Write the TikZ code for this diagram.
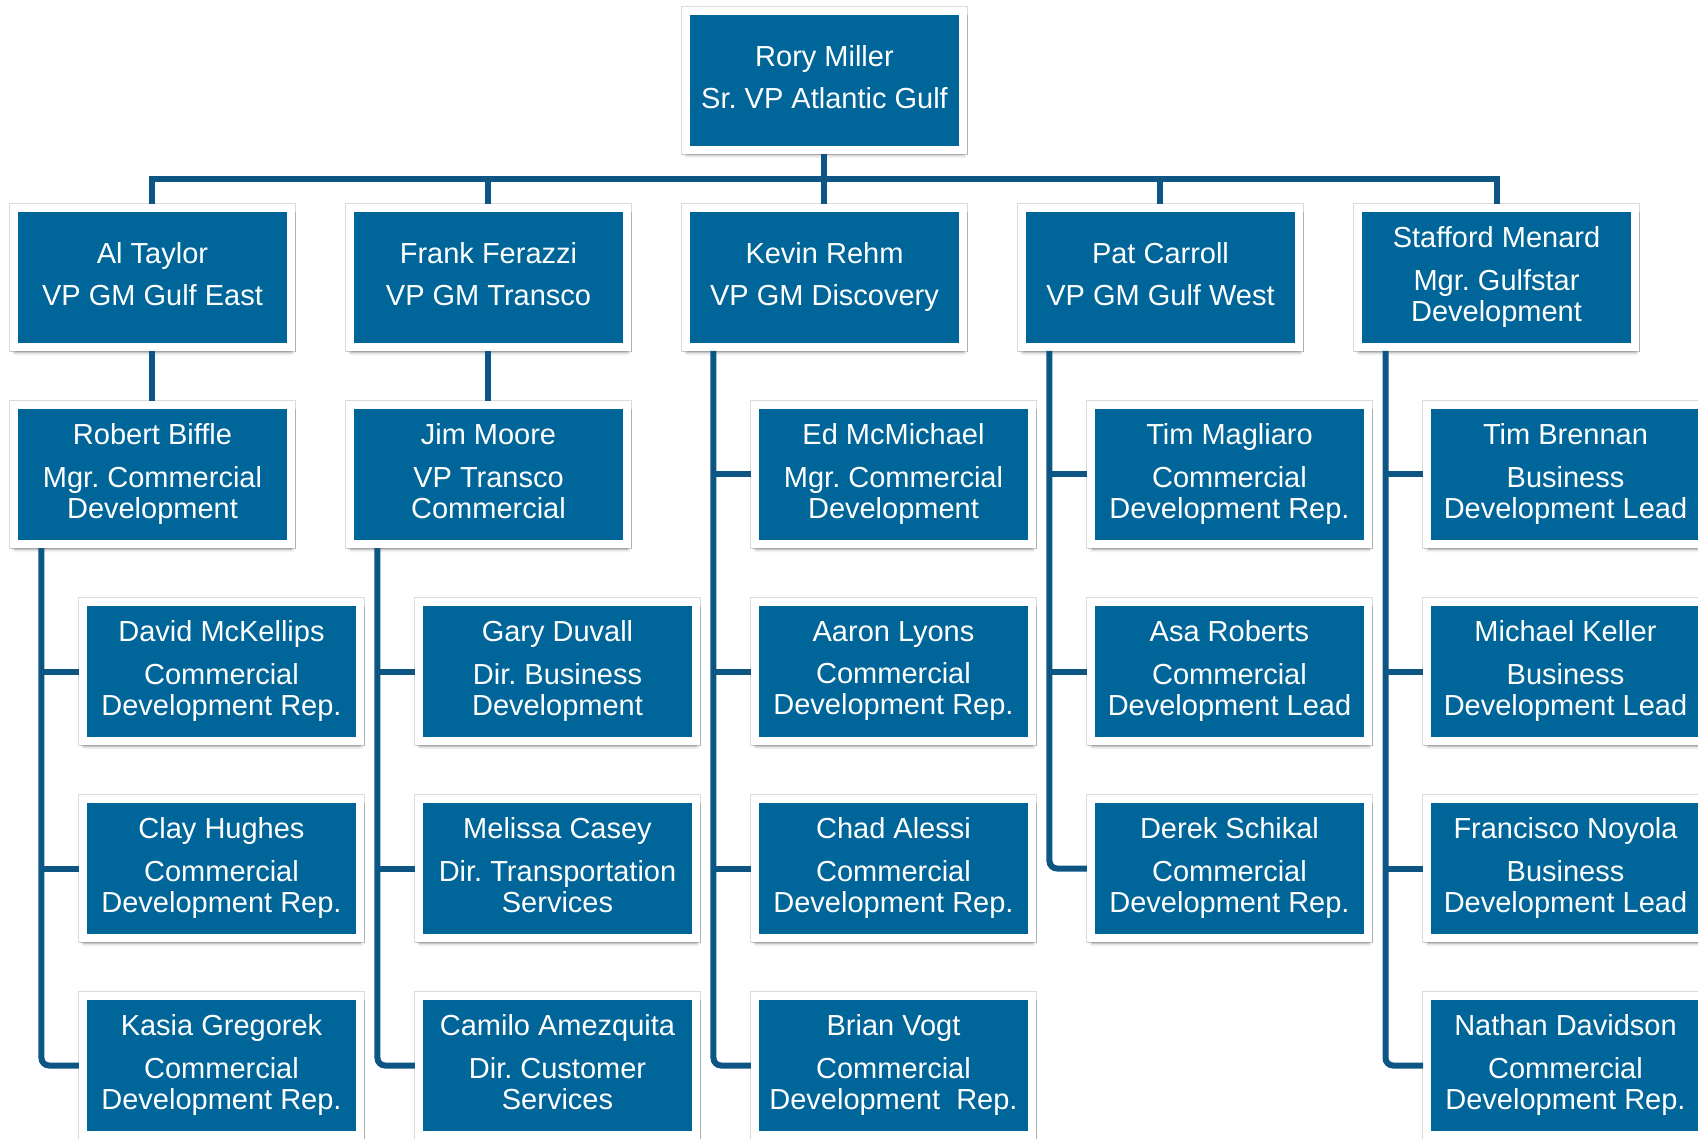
\documentclass[tikz,border=0pt]{standalone}
\usepackage{fontspec}
\setmainfont{Liberation Sans}
\frenchspacing
\usetikzlibrary{positioning, shadows.blur}
\definecolor{boxblue}{RGB}{0,101,153}
\definecolor{lineblue}{RGB}{13,86,132}
\tikzstyle{conn} = [lineblue, line width=0.12cm]

\begin{document}
\begin{tikzpicture}[
        person/.style={
            fill=boxblue,
            draw=white,
            line width=0.16cm,
            preaction={draw=black!14, line width=0.19cm},
            blur shadow={shadow xshift=0.02cm, shadow yshift=-0.1cm,
                shadow blur radius=0.07cm, shadow opacity=40},
            minimum width=5.54cm,
            minimum height=2.78cm,
            inner sep=2pt,
            align=center,
            text=white,
            font=\fontsize{16.5}{17.5}\selectfont,
            execute at begin node=\rule{0pt}{17.5pt},
            execute at end node=\rule[-4pt]{0pt}{4pt}
        },
        node distance=1cm
    ]
        \useasboundingbox (-16.49,1.61) rectangle (17.47,-21.17);

        % top and second level
        \node[person] (root) {Rory Miller\\[6.8pt]Sr. VP Atlantic Gulf};
        \node[person, below=of root] (rehm) {Kevin Rehm\\[6.8pt]VP GM Discovery};
        \node[person, left=1.02cm of rehm] (ferazzi) {Frank Ferazzi\\[6.8pt]VP GM Transco};
        \node[person, left=1.02cm of ferazzi] (taylor) {Al Taylor\\[6.8pt]VP GM Gulf East};
        \node[person, right=1.02cm of rehm] (carroll) {Pat Carroll\\[6.8pt]VP GM Gulf West};
        \node[person, right=1.02cm of carroll] (menard) {Stafford Menard\\[6.8pt]Mgr. Gulfstar\\Development};

        % Al Taylor
        \node[person, below=of taylor] (biffle) {Robert Biffle\\[6.8pt]Mgr. Commercial\\Development};
        \node[person, below=of biffle, xshift=1.38cm] (mckellips) {David McKellips\\[6.8pt]Commercial\\Development Rep.};
        \node[person, below=of mckellips] (hughes) {Clay Hughes\\[6.8pt]Commercial\\Development Rep.};
        \node[person, below=of hughes] (gregorek) {Kasia Gregorek\\[6.8pt]Commercial\\Development Rep.};

        % Frank Ferazzi
        \node[person, below=of ferazzi] (moore) {Jim Moore\\[6.8pt]VP Transco\\Commercial};
        \node[person, below=of moore, xshift=1.38cm] (duvall) {Gary Duvall\\[6.8pt]Dir. Business\\Development};
        \node[person, below=of duvall] (casey) {Melissa Casey\\[6.8pt]Dir. Transportation\\Services};
        \node[person, below=of casey] (amezquita) {Camilo Amezquita\\[6.8pt]Dir. Customer\\Services};

        % Kevin Rehm
        \node[person, below=of rehm, xshift=1.38cm] (mcmichael) {Ed McMichael\\[6.8pt]Mgr. Commercial\\Development};
        \node[person, below=of mcmichael] (lyons) {Aaron Lyons\\[6.8pt]Commercial\\Development Rep.};
        \node[person, below=of lyons] (alessi) {Chad Alessi\\[6.8pt]Commercial\\Development Rep.};
        \node[person, below=of alessi] (vogt) {Brian Vogt\\[6.8pt]Commercial\\Development~~Rep.};

        % Pat Carroll
        \node[person, below=of carroll, xshift=1.38cm] (magliaro) {Tim Magliaro\\[6.8pt]Commercial\\Development Rep.};
        \node[person, below=of magliaro] (roberts) {Asa Roberts\\[6.8pt]Commercial\\Development Lead};
        \node[person, below=of roberts] (schikal) {Derek Schikal\\[6.8pt]Commercial\\Development Rep.};

        % Stafford Menard
        \node[person, below=of menard, xshift=1.38cm] (brennan) {Tim Brennan\\[6.8pt]Business\\Development Lead};
        \node[person, below=of brennan] (keller) {Michael Keller\\[6.8pt]Business\\Development Lead};
        \node[person, below=of keller] (noyola) {Francisco Noyola\\[6.8pt]Business\\Development Lead};
        \node[person, below=of noyola] (davidson) {Nathan Davidson\\[6.8pt]Commercial\\Development Rep.};

        % connectors
        \draw[conn] (root) -- (rehm);
        \foreach \n in {taylor, ferazzi, carroll, menard}
            \draw[conn] (root.south) -- ++(0,-0.5) -| (\n.north);
        \draw[conn] (taylor) -- (biffle);
        \draw[conn] (ferazzi) -- (moore);

        \coordinate (bifflespine) at ([xshift=-2.22cm]biffle.south);
        \coordinate (moorespine) at ([xshift=-2.22cm]moore.south);
        \coordinate (rehmspine) at ([xshift=-2.22cm]rehm.south);
        \coordinate (carrollspine) at ([xshift=-2.22cm]carroll.south);
        \coordinate (menardspine) at ([xshift=-2.22cm]menard.south);

        \draw[conn, rounded corners=1.5mm] (bifflespine) |- (gregorek.west);
        \draw[conn, rounded corners=1.5mm] (moorespine) |- (amezquita.west);
        \draw[conn, rounded corners=1.5mm] (rehmspine) |- (vogt.west);
        \draw[conn, rounded corners=1.5mm] (carrollspine) |- (schikal.west);
        \draw[conn, rounded corners=1.5mm] (menardspine) |- (davidson.west);

        \foreach \n in {mckellips, hughes}
            \draw[conn] (\n.west) -- (\n.west -| bifflespine);
        \foreach \n in {duvall, casey}
            \draw[conn] (\n.west) -- (\n.west -| moorespine);
        \foreach \n in {mcmichael, lyons, alessi}
            \draw[conn] (\n.west) -- (\n.west -| rehmspine);
        \foreach \n in {magliaro, roberts}
            \draw[conn] (\n.west) -- (\n.west -| carrollspine);
        \foreach \n in {brennan, keller, noyola}
            \draw[conn] (\n.west) -- (\n.west -| menardspine);

    \end{tikzpicture}
\end{document}
